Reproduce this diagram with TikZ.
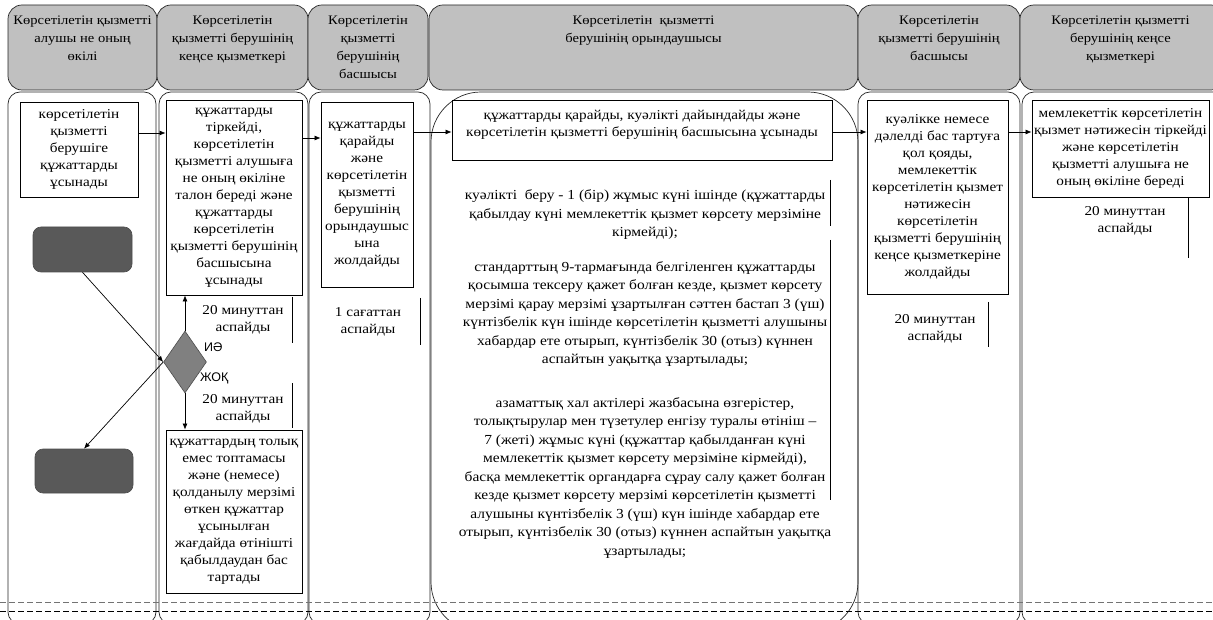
\documentclass[tikz,border=0pt]{standalone}
\usepackage{fontspec}
\setmainfont[FakeStretch=1.12]{Liberation Serif}
\newfontfamily\labfont{Liberation Sans}
\usetikzlibrary{arrows.meta,shapes.geometric,calc}
\definecolor{hdrgray}{RGB}{192,192,192}
\definecolor{darkbox}{RGB}{89,89,89}
\definecolor{diagray}{RGB}{128,128,128}
\newcommand\myhfs{\fontsize{13}{18}\selectfont}
\newcommand\myfs{\fontsize{13.6}{17}\selectfont}
\newcommand\mypfs{\fontsize{13.8}{18.5}\selectfont}
\begin{document}
\begin{tikzpicture}[x=1pt,y=-1pt,
  lane/.style={draw=black!85, line width=0.7pt, rectangle, rounded corners=12pt, inner sep=0pt},
  hdr/.style={lane, fill=hdrgray, rounded corners=14pt},
  hdrtext/.style={anchor=north, align=center, font=\myhfs, inner sep=0pt},
  box/.style={draw=black, line width=0.8pt, fill=white, rectangle, align=center, inner sep=2pt, font=\myfs},
  term/.style={draw=black!70, line width=0.6pt, fill=darkbox, rectangle, rounded corners=8pt, inner sep=0pt},
  dec/.style={draw=black!70, line width=0.6pt, fill=diagray, diamond, inner sep=0pt},
  note/.style={align=center, font=\myfs, inner sep=0pt},
  pnote/.style={align=center, font=\mypfs, inner sep=0pt},
  arr/.style={draw=black, line width=0.7pt, -{Latex[length=6pt,width=5pt]}},
  tick/.style={draw=black, line width=0.7pt}
]
\useasboundingbox (0,0) rectangle (1213,620);
% body lanes
\node[lane, minimum width=148pt, minimum height=532pt] (L1) at (82,358) {};
\node[lane, minimum width=149pt, minimum height=532pt] (L2) at (233.5,358) {};
\node[lane, minimum width=121pt, minimum height=532pt] (L3) at (369.5,358) {};
\node[lane, rounded corners=50pt, minimum width=427pt, minimum height=540pt] (L4) at (644.5,362) {};
\node[lane, minimum width=162pt, minimum height=532pt] (L5) at (939,358) {};
\node[lane, minimum width=203pt, minimum height=532pt] (L6) at (1123.5,358) {};
% headers
\node[hdr, minimum width=149pt, minimum height=85pt] (H1) at (82.5,47.5) {};
\node[hdr, minimum width=151pt, minimum height=85pt] (H2) at (232.5,47.5) {};
\node[hdr, minimum width=120pt, minimum height=85pt] (H3) at (368,47.5) {};
\node[hdr, minimum width=429pt, minimum height=85pt] (H4) at (643.5,47.5) {};
\node[hdr, minimum width=162pt, minimum height=85pt] (H5) at (939,47.5) {};
\node[hdr, minimum width=205pt, minimum height=85pt] (H6) at (1122.5,47.5) {};
\node[hdrtext] (H1t) at ($(H1.north)+(0,11)$) {Көрсетілетін қызметті\\алушы не оның\\өкілі};
\node[hdrtext] (H2t) at ($(H2.north)+(0,11)$) {Көрсетілетін\\қызметті берушінің\\кеңсе қызметкері};
\node[hdrtext] (H3t) at ($(H3.north)+(0,11)$) {Көрсетілетін\\қызметті\\берушінің\\басшысы};
\node[hdrtext] (H4t) at ($(H4.north)+(0,11)$) {Көрсетілетін\ \ қызметті\\берушінің орындаушысы};
\node[hdrtext] (H5t) at ($(H5.north)+(0,11)$) {Көрсетілетін\\қызметті берушінің\\басшысы};
\node[hdrtext] (H6t) at ($(H6.north)+(-2,11)$) {Көрсетілетін қызметті\\берушінің кеңсе\\қызметкері};
% dashed lines
\draw[draw=black!55, line width=0.8pt, dash pattern=on 6pt off 3pt] (0,602) -- (1213,602);
\draw[draw=black, line width=0.8pt, dash pattern=on 6pt off 3pt] (0,611) -- (1213,611);
% column 1
\node[box, minimum width=118pt, minimum height=95pt] (B1) at (79,149.5) {көрсетілетін\\қызметті\\берушіге\\құжаттарды\\ұсынады};
\node[term, minimum width=99pt, minimum height=45pt] (S) at (82.5,249.5) {};
\node[term, minimum width=98pt, minimum height=44pt] (E) at (84,471) {};
% column 2
\node[box, minimum width=136pt, minimum height=195pt] (B2) at (234,197.5) {құжаттарды\\тіркейді,\\көрсетілетін\\қызметті алушыға\\не оның өкілiне\\талон береді және\\құжаттарды\\көрсетілетін\\қызметті берушінің\\басшысына\\ұсынады};
\node[dec, minimum width=43pt, minimum height=62pt] (D) at (185,362) {};
\node[box, minimum width=136pt, minimum height=163pt] (B2b) at (234,511.5) {құжаттардың толық\\емес топтамасы\\және (немесе)\\қолданылу мерзімі\\өткен құжаттар\\ұсынылған\\жағдайда өтінішті\\қабылдаудан бас\\тартады};
\node[anchor=west, inner sep=0pt, font=\labfont\fontsize{12.5}{14}\selectfont] (yes) at (204,347) {ИӘ};
\node[anchor=west, inner sep=0pt, font=\labfont\fontsize{12.5}{14}\selectfont] (no) at (200,378) {ЖОҚ};
\node[note] (T1) at (243,320) {20 минуттан\\аспайды};
\node[note] (T2) at (243,409) {20 минуттан\\аспайды};
\draw[tick] (292,297) -- (292,343);
\draw[tick] (292,383) -- (292,428);
% column 3
\node[box, minimum width=92pt, minimum height=185pt] (B3) at (367,194.5) {құжаттарды\\қарайды\\және\\көрсетілетін\\қызметті\\берушінің\\орындаушыс\\ына\\жолдайды};
\node[note] (T3) at (368,322) {1 сағаттан\\аспайды};
\draw[tick] (420,298) -- (420,345);
% column 4
\node[box, minimum width=380pt, minimum height=60pt] (B4) at (642,130) {құжаттарды қарайды, куәлікті дайындайды және\\көрсетілетін қызметті берушінің басшысына ұсынады\\[-3pt]\mbox{}};
\node[pnote] (P1) at (645,215) {куәлікті\ \ беру - 1 (бір) жұмыс күні ішінде (құжаттарды\\қабылдау күні мемлекеттік қызмет көрсету мерзіміне\\кірмейді);};
\node[pnote] (P2) at (645,314) {стандарттың 9-тармағында белгіленген құжаттарды\\қосымша тексеру қажет болған кезде, қызмет көрсету\\мерзімі қарау мерзімі ұзартылған сәттен бастап 3 (үш)\\күнтізбелік күн ішінде көрсетілетін қызметті алушыны\\хабардар ете отырып, күнтізбелік 30 (отыз) күннен\\аспайтын уақытқа ұзартылады;};
\node[pnote] (P3) at (645,478) {азаматтық хал актілері жазбасына өзгерістер,\\толықтырулар мен түзетулер енгізу туралы өтініш –\\7 (жеті) жұмыс күні (құжаттар қабылданған күні\\мемлекеттік қызмет көрсету мерзіміне кірмейді),\\басқа мемлекеттік органдарға сұрау салу қажет болған\\кезде қызмет көрсету мерзімі көрсетілетін қызметті\\алушыны күнтізбелік 3 (үш) күн ішінде хабардар ете\\отырып, күнтізбелік 30 (отыз) күннен аспайтын уақытқа\\ұзартылады;};
\draw[tick] (830,180) -- (830,226);
\draw[tick] (830,240) -- (830,500);
% column 5
\node[box, minimum width=141pt, minimum height=194pt] (B5) at (937.5,197) {куәлікке немесе\\дәлелді бас тартуға\\қол қояды,\\мемлекеттік\\көрсетілетін қызмет\\нәтижесін\\көрсетілетін\\қызметті берушінің\\кеңсе қызметкеріне\\жолдайды};
\node[note] (T4) at (935,329) {20 минуттан\\аспайды};
\draw[tick] (988,302) -- (988,347);
% column 6
\node[box, minimum width=177pt, minimum height=97pt] (B6) at (1120.5,148.5) {мемлекеттік көрсетілетін\\қызмет нәтижесін тіркейді\\және көрсетілетін\\қызметті алушыға не\\оның өкілiне береді};
\node[note] (T5) at (1125,221) {20 минуттан\\аспайды};
\draw[tick] (1188,197) -- (1188,258);
% connectors
\draw[arr] (B1.east |- 0,133) -- (B2.west |- 0,133);
\draw[arr] (B2.east |- 0,138) -- (B3.west |- 0,138);
\draw[arr] (B3.east |- 0,132) -- (B4.west |- 0,132);
\draw[arr] (B4.east |- 0,132) -- (B5.west |- 0,132);
\draw[arr] (B5.east |- 0,132) -- (B6.west |- 0,132);
\draw[arr] (S.south) -- (D.west);
\draw[arr] (D.west) -- (E.north);
\draw[arr] (D.north) -- (D.north |- B2.south);
\draw[arr] (D.south) -- (D.south |- B2b.north);
\end{tikzpicture}
\end{document}
